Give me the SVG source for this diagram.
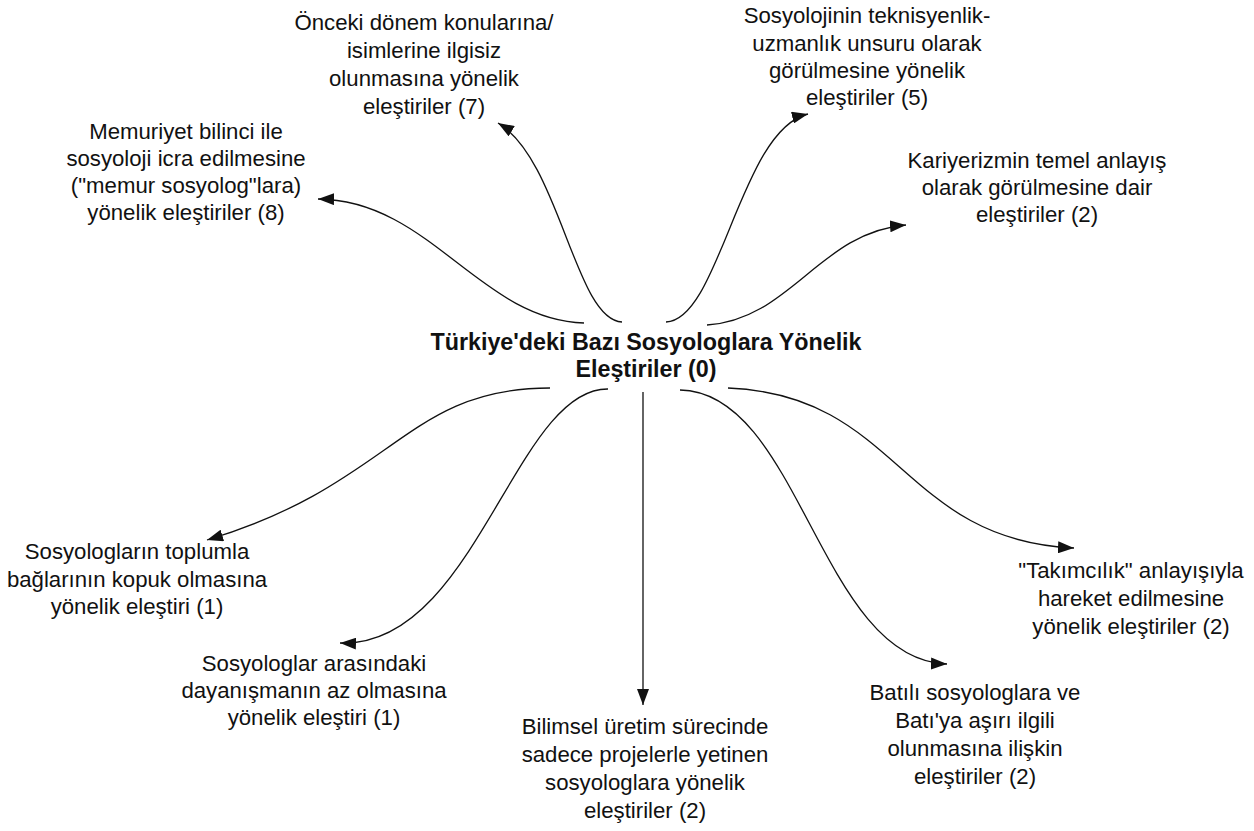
<svg xmlns="http://www.w3.org/2000/svg" width="1254" height="831" viewBox="0 0 1254 831">
<defs>
<style>
.lbl{font-family:"Liberation Sans",Arial,sans-serif;font-size:22.2px;fill:#111;text-anchor:middle}
.ctr{font-family:"Liberation Sans",Arial,sans-serif;font-size:23.3px;font-weight:bold;fill:#111;text-anchor:middle}
.con{fill:none;stroke:#111;stroke-width:1.3}
</style>
<marker id="ah" viewBox="0 0 16 12" refX="16" refY="6" markerWidth="16" markerHeight="12" markerUnits="userSpaceOnUse" orient="auto"><path d="M0,0 L16,6 L0,12 z" fill="#111"/></marker>
</defs>
<rect width="1254" height="831" fill="#fff"/>
<g id="connectors">
<path class="con" marker-end="url(#ah)" d="M622,322 C575,320 560,160 498,123"/>
<path class="con" marker-end="url(#ah)" d="M584,323 C480,320 430,200 318,199"/>
<path class="con" marker-end="url(#ah)" d="M666,322 C720,320 740,130 808,114"/>
<path class="con" marker-end="url(#ah)" d="M707,325 C790,320 820,232 906,225"/>
<path class="con" marker-end="url(#ah)" d="M550,388 C405,388 394,484 207,540"/>
<path class="con" marker-end="url(#ah)" d="M608,389 C515,388 475,648 340,643"/>
<path class="con" marker-end="url(#ah)" d="M643,392 L643,705"/>
<path class="con" marker-end="url(#ah)" d="M680,390 C800,392 820,660 947,664"/>
<path class="con" marker-end="url(#ah)" d="M728,388 C900,395 900,540 1074,548"/>
</g>
<g id="n0"><text class="ctr"><tspan x="646" y="350">Türkiye'deki Bazı Sosyologlara Yönelik</tspan><tspan x="646" y="377">Eleştiriler (0)</tspan></text></g>
<g id="n1"><text class="lbl"><tspan x="424" y="30">Önceki dönem konularına/</tspan><tspan x="424" y="58">isimlerine ilgisiz</tspan><tspan x="424" y="86">olunmasına yönelik</tspan><tspan x="424" y="114">eleştiriler (7)</tspan></text></g>
<g id="n2"><text class="lbl"><tspan x="186" y="139">Memuriyet bilinci ile</tspan><tspan x="186" y="166">sosyoloji icra edilmesine</tspan><tspan x="186" y="193">("memur sosyolog"lara)</tspan><tspan x="186" y="220">yönelik eleştiriler (8)</tspan></text></g>
<g id="n3"><text class="lbl"><tspan x="867" y="23">Sosyolojinin teknisyenlik-</tspan><tspan x="867" y="51">uzmanlık unsuru olarak</tspan><tspan x="867" y="78">görülmesine yönelik</tspan><tspan x="867" y="105">eleştiriler (5)</tspan></text></g>
<g id="n4"><text class="lbl"><tspan x="1037" y="168">Kariyerizmin temel anlayış</tspan><tspan x="1037" y="195">olarak görülmesine dair</tspan><tspan x="1037" y="222">eleştiriler (2)</tspan></text></g>
<g id="n5"><text class="lbl"><tspan x="137" y="559">Sosyologların toplumla</tspan><tspan x="137" y="587">bağlarının kopuk olmasına</tspan><tspan x="137" y="614">yönelik eleştiri (1)</tspan></text></g>
<g id="n6"><text class="lbl"><tspan x="314" y="671">Sosyologlar arasındaki</tspan><tspan x="314" y="698">dayanışmanın az olmasına</tspan><tspan x="314" y="725">yönelik eleştiri (1)</tspan></text></g>
<g id="n7"><text class="lbl"><tspan x="645" y="734">Bilimsel üretim sürecinde</tspan><tspan x="645" y="762">sadece projelerle yetinen</tspan><tspan x="645" y="790">sosyologlara yönelik</tspan><tspan x="645" y="818">eleştiriler (2)</tspan></text></g>
<g id="n8"><text class="lbl"><tspan x="975" y="700">Batılı sosyologlara ve</tspan><tspan x="975" y="728">Batı'ya aşırı ilgili</tspan><tspan x="975" y="756">olunmasına ilişkin</tspan><tspan x="975" y="784">eleştiriler (2)</tspan></text></g>
<g id="n9"><text class="lbl"><tspan x="1131" y="578">"Takımcılık" anlayışıyla</tspan><tspan x="1131" y="606">hareket edilmesine</tspan><tspan x="1131" y="634">yönelik eleştiriler (2)</tspan></text></g>
</svg>
